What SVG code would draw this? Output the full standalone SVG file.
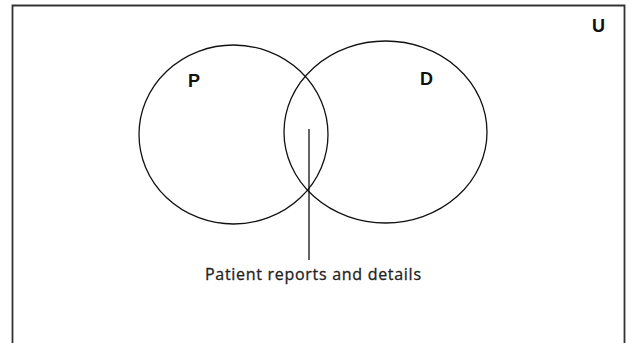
<svg xmlns="http://www.w3.org/2000/svg" width="629" height="343" viewBox="0 0 629 343">
<style>
.set{fill:none;stroke:#111;stroke-width:1.3}
.lbl{font-family:"Liberation Sans",Arial,sans-serif;font-weight:bold;font-size:18px;fill:#111}
.cap{font-family:"Open Sans","DejaVu Sans",sans-serif;font-size:16px;fill:#222;stroke:#222;stroke-width:0.3}
</style>
<rect width="629" height="343" fill="#fff"/>
<g id="universe">
<path d="M12.5,345 V5.5 H624.5 V345" fill="none" stroke="#333" stroke-width="1.8"/>
<text class="lbl" x="592" y="32">U</text>
</g>
<g id="P">
<ellipse class="set" cx="233.5" cy="134.5" rx="94.5" ry="89.5"/>
<text class="lbl" x="188" y="87">P</text>
</g>
<g id="D">
<ellipse class="set" cx="385.5" cy="132" rx="101.5" ry="91"/>
<text class="lbl" x="420" y="85">D</text>
</g>
<g id="connectors">
<line x1="309" y1="129" x2="309" y2="260" stroke="#111" stroke-width="1.3"/>
</g>
<g id="intersection-label">
<text class="cap" x="205" y="280" textLength="216" lengthAdjust="spacing">Patient reports and details</text>
</g>
</svg>
